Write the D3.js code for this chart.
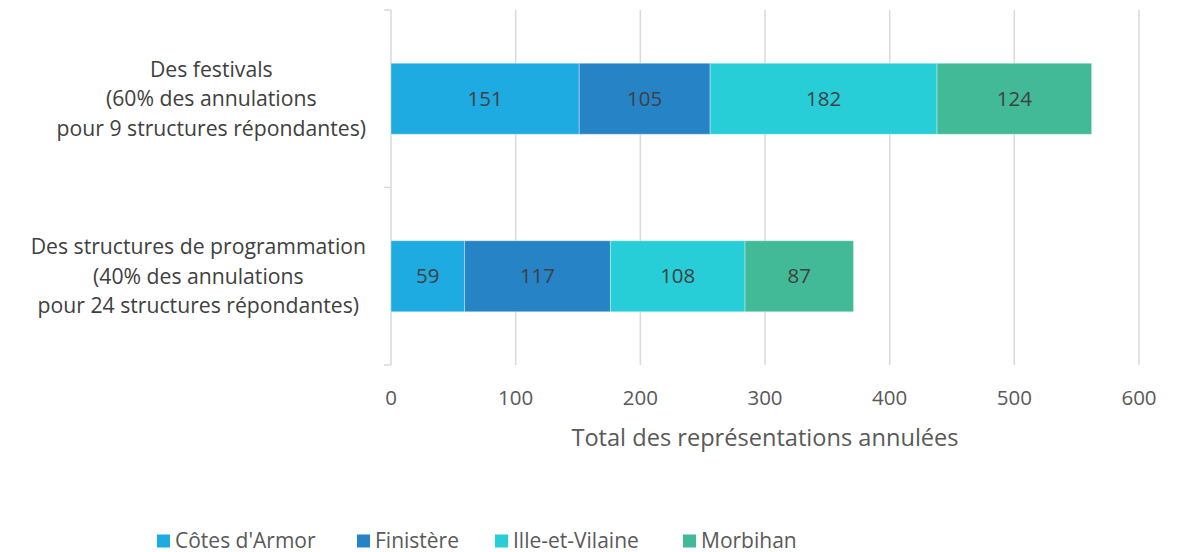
<!DOCTYPE html>
<html><head><meta charset="utf-8">
<script src="https://cdn.jsdelivr.net/npm/d3@7"></script>
<style>body{margin:0;background:#fff}svg{display:block}text{font-family:"Open Sans",sans-serif}</style>
</head><body>
<svg id="c" width="1189" height="552"></svg>
<script>
const categories = [
  ["Des festivals", "(60% des annulations", "pour 9 structures répondantes)"],
  ["Des structures de programmation", "(40% des annulations", "pour 24 structures répondantes)"]
];
const seriesNames = ["Côtes d'Armor", "Finistère", "Ille-et-Vilaine", "Morbihan"];
const seriesColors = ["#1EABE2", "#2683C6", "#27CED7", "#42BA97"];
const values = [
  [151, 105, 182, 124],
  [59, 117, 108, 87]
];
const xTicks = [0, 100, 200, 300, 400, 500, 600];
const axisTitle = "Total des représentations annulées";

const svg = d3.select("#c");
const x = d3.scaleLinear().domain([0, 600]).range([391, 1139]);
const y = d3.scaleBand().domain(d3.range(categories.length)).range([10, 365]).paddingInner(0.6).paddingOuter(0.3);

svg.append("g").selectAll("line").data(xTicks.slice(1)).join("line")
  .attr("x1", d => x(d)).attr("x2", d => x(d)).attr("y1", 10).attr("y2", 365)
  .attr("stroke", "#d9d9d9").attr("stroke-width", 1.5);
svg.append("line").attr("x1", x(0)).attr("x2", x(0)).attr("y1", 10).attr("y2", 365).attr("stroke", "#d9d9d9").attr("stroke-width", 1.5);
const bounds = [10, 187.5, 365];
svg.append("g").selectAll("line").data(bounds).join("line")
  .attr("x1", x(0) - 7).attr("x2", x(0)).attr("y1", d => d).attr("y2", d => d)
  .attr("stroke", "#d9d9d9").attr("stroke-width", 1.5);

const stacked = values.map(row => { let c = 0; return row.map((v, i) => { const s = {x0: c, x1: c + v, v: v, i: i}; c += v; return s; }); });
stacked.forEach((row, ci) => {
  const g = svg.append("g");
  g.selectAll("rect").data(row).join("rect")
    .attr("x", d => x(d.x0)).attr("width", d => x(d.x1) - x(d.x0))
    .attr("y", y(ci)).attr("height", y.bandwidth())
    .attr("fill", d => seriesColors[d.i]).attr("stroke", "#ffffff").attr("stroke-opacity", 0.35).attr("stroke-width", 1);
  g.selectAll("text").data(row).join("text")
    .attr("x", d => (x(d.x0) + x(d.x1)) / 2).attr("y", y(ci) + y.bandwidth() / 2)
    .attr("dy", "0.35em").attr("text-anchor", "middle")
    .attr("font-size", 20.5).attr("fill", "#404040").text(d => d.v);
});

categories.forEach((lines, ci) => {
  const g = svg.append("g");
  const cy = y(ci) + y.bandwidth() / 2;
  const ts = g.selectAll("text").data(lines).join("text")
    .attr("y", (d, i) => cy + (i - 1) * 29.5).attr("dy", "0.35em")
    .attr("text-anchor", "middle").attr("font-size", 21.2).attr("fill", "#404040").text(d => d);
  let maxW = 0; ts.each(function(){ maxW = Math.max(maxW, this.getComputedTextLength()); });
  ts.attr("x", 366 - maxW / 2);
});

svg.append("g").selectAll("text").data(xTicks).join("text")
  .attr("x", d => x(d)).attr("y", 398).attr("dy", "0.35em").attr("text-anchor", "middle")
  .attr("font-size", 20.5).attr("fill", "#595959").text(d => d);
svg.append("text").attr("x", 765).attr("y", 438).attr("dy", "0.35em").attr("text-anchor", "middle")
  .attr("font-size", 23.6).attr("fill", "#595959").text(axisTitle);

const legX = [157, 357, 495, 683];
const lg = svg.append("g").selectAll("g").data(seriesNames).join("g")
  .attr("transform", (d, i) => `translate(${legX[i]},541)`);
lg.append("rect").attr("x", 0).attr("y", -6.5).attr("width", 13).attr("height", 13).attr("fill", (d, i) => seriesColors[i]);
lg.append("text").attr("x", 18).attr("dy", "0.35em").attr("font-size", 21).attr("fill", "#595959").text(d => d);
</script>
</body></html>
